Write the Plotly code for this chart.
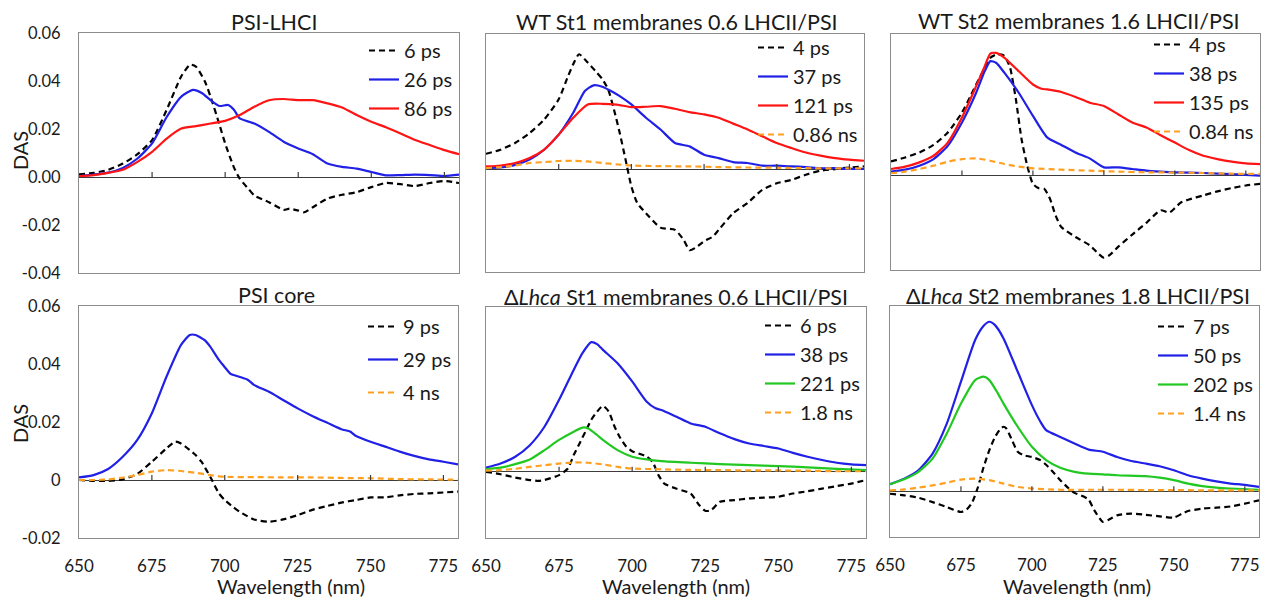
import plotly.graph_objects as go

# The page body has an 8px margin: the figure starts 8px in, and is sized to reach the window edge
OFF = 8
W, H = 1269 - OFF, 600 - OFF
FONT = "Lato"

# ---------------- data ----------------
titles = ["PSI-LHCI", "WT St1 membranes 0.6 LHCII/PSI", "WT St2 membranes 1.6 LHCII/PSI",
          "PSI core", "Δ<i>Lhca</i> St1 membranes 0.6 LHCII/PSI", "Δ<i>Lhca</i> St2 membranes 1.8 LHCII/PSI"]

step5 = list(range(650, 781, 5))
wl_tail = [650, 655, 660, 665, 670, 675, 680, 685, 690, 695, 700, 710, 720, 730, 740, 750, 760, 770, 780]

# Panel 1: PSI-LHCI
p1_wl_6ps = [650, 655, 660, 665, 670, 675, 680, 685, 688, 690, 693, 695, 698, 700, 703, 705, 708, 710, 715, 720, 722, 725, 727, 730, 735, 740, 745, 750, 755, 760, 765, 770, 775, 780]
p1_6ps = [0.0011, 0.0017, 0.003, 0.0056, 0.0095, 0.0154, 0.028, 0.042, 0.0468, 0.046, 0.040, 0.0335, 0.022, 0.014, 0.004, -0.0007, -0.005, -0.0077, -0.0105, -0.0137, -0.0132, -0.014, -0.0147, -0.0126, -0.009, -0.0074, -0.0063, -0.0042, -0.0025, -0.003, -0.0038, -0.0025, -0.0017, -0.0025]
p1_wl_26ps = [650, 655, 660, 665, 670, 675, 680, 685, 689, 692, 695, 698, 701, 703, 705, 710, 715, 720, 725, 730, 735, 740, 745, 750, 755, 760, 765, 770, 775, 780]
p1_26ps = [0.0004, 0.001, 0.0018, 0.0038, 0.0077, 0.014, 0.025, 0.0335, 0.0363, 0.035, 0.032, 0.0296, 0.030, 0.028, 0.0244, 0.0223, 0.0188, 0.0147, 0.0119, 0.0095, 0.0056, 0.0042, 0.0035, 0.0021, 0.0007, 0.0008, 0.001, 0.0008, 0.0004, 0.001]
p1_86ps = [0.0004, 0.0008, 0.0017, 0.003, 0.0063, 0.0105, 0.016, 0.0202, 0.0212, 0.0223, 0.0234, 0.0258, 0.0293, 0.032, 0.0325, 0.032, 0.032, 0.0307, 0.029, 0.0258, 0.023, 0.0207, 0.0181, 0.0154, 0.0133, 0.0112, 0.0095]

# Panel 2: WT St1
p2_wl_4ps = [650, 655, 660, 665, 670, 675, 678, 680, 682, 685, 688, 690, 692, 694, 696, 698, 700, 702, 705, 710, 715, 718, 720, 722, 725, 728, 730, 735, 740, 745, 750, 755, 760, 765, 770, 775, 780]
p2_4ps = [0.0068, 0.0086, 0.0116, 0.016, 0.022, 0.031, 0.0406, 0.0466, 0.051, 0.0473, 0.043, 0.040, 0.0354, 0.0265, 0.016, 0.0042, -0.0077, -0.015, -0.0196, -0.026, -0.027, -0.0315, -0.036, -0.035, -0.032, -0.030, -0.027, -0.0196, -0.015, -0.0092, -0.0063, -0.0048, -0.0025, -0.0007, 0.0, 0.0007, 0.0012]
p2_wl_37ps = [650, 655, 660, 665, 670, 675, 680, 684, 687, 690, 693, 696, 700, 705, 710, 715, 720, 725, 730, 735, 740, 745, 750, 755, 760, 765, 770, 775, 780]
p2_37ps = [0.0004, 0.0007, 0.0019, 0.0042, 0.0086, 0.0153, 0.025, 0.0347, 0.0372, 0.0366, 0.0347, 0.0324, 0.0287, 0.0228, 0.0176, 0.0116, 0.0101, 0.0064, 0.0049, 0.0031, 0.0027, 0.0015, 0.0015, 0.0012, 0.0009, 0.0004, 0.0004, 0.0001, 0.0001]
p2_121ps = [0.0012, 0.0016, 0.0027, 0.0049, 0.0086, 0.0153, 0.0228, 0.0287, 0.029, 0.0286, 0.0275, 0.0277, 0.028, 0.0268, 0.0253, 0.0243, 0.0228, 0.0202, 0.0176, 0.0146, 0.0116, 0.0094, 0.0074, 0.006, 0.0049, 0.0042, 0.0037]
p2_086ns = [0.0004, 0.0009, 0.0016, 0.0027, 0.0031, 0.0036, 0.0037, 0.0034, 0.0027, 0.0021, 0.0016, 0.0013, 0.0012, 0.0009, 0.0007, 0.0006, 0.0004, 0.0003, 0.0003]

# Panel 3: WT St2
p3_wl_4ps = [650, 655, 660, 665, 670, 675, 678, 680, 683, 685, 687, 689, 690, 691, 692, 694, 696, 698, 700, 702, 704, 706, 708, 710, 715, 720, 723, 725, 727, 730, 735, 740, 745, 748, 750, 752, 755, 760, 765, 770, 775, 780]
p3_4ps = [0.006, 0.0077, 0.0098, 0.013, 0.0183, 0.0267, 0.0337, 0.0386, 0.0456, 0.0499, 0.0513, 0.0513, 0.0506, 0.0485, 0.0456, 0.0323, 0.0154, 0.0042, -0.0035, -0.0053, -0.0056, -0.0098, -0.0169, -0.0218, -0.026, -0.0295, -0.033, -0.0348, -0.0337, -0.0302, -0.025, -0.020, -0.0147, -0.0157, -0.0138, -0.0115, -0.0101, -0.0084, -0.0067, -0.0053, -0.0042, -0.0035]
p3_wl_38ps = [650, 655, 660, 665, 670, 675, 680, 683, 685, 687, 690, 695, 700, 705, 710, 715, 720, 725, 730, 735, 740, 745, 750, 760, 770, 780]
p3_38ps = [0.0017, 0.0025, 0.0042, 0.007, 0.0126, 0.0225, 0.0351, 0.0442, 0.0485, 0.0478, 0.0435, 0.0351, 0.0253, 0.0162, 0.013, 0.0098, 0.0073, 0.0035, 0.0035, 0.0028, 0.0021, 0.0017, 0.0014, 0.0011, 0.0006, 0.0]
p3_wl_135ps = [650, 655, 660, 665, 670, 675, 680, 683, 685, 687, 690, 695, 700, 703, 705, 710, 715, 720, 725, 730, 735, 740, 745, 750, 755, 760, 765, 770, 775, 780]
p3_135ps = [0.0028, 0.0038, 0.0056, 0.0084, 0.014, 0.0246, 0.0379, 0.0463, 0.0517, 0.052, 0.0499, 0.0442, 0.0386, 0.0368, 0.0365, 0.0354, 0.0333, 0.0309, 0.0295, 0.026, 0.0225, 0.0204, 0.0171, 0.014, 0.0108, 0.0084, 0.007, 0.0059, 0.0052, 0.0049]
p3_084ns = [0.001, 0.0017, 0.0028, 0.0042, 0.0059, 0.007, 0.0073, 0.0063, 0.0049, 0.0038, 0.0031, 0.0025, 0.0021, 0.0017, 0.0014, 0.0013, 0.0011, 0.0008, 0.0007]

# Panel 4: PSI core
p4_wl_9ps = [650, 655, 660, 665, 670, 675, 680, 683, 685, 688, 690, 692, 695, 698, 700, 703, 705, 710, 715, 720, 725, 730, 735, 740, 745, 750, 755, 760, 765, 770, 775, 780]
p4_9ps = [0.0, -0.0003, -0.0003, 0.0002, 0.0021, 0.0063, 0.0109, 0.0132, 0.0126, 0.0103, 0.0086, 0.0063, 0.0011, -0.0046, -0.0069, -0.0094, -0.0109, -0.0136, -0.0144, -0.0136, -0.0121, -0.0103, -0.009, -0.0078, -0.0069, -0.006, -0.006, -0.0053, -0.0048, -0.0046, -0.0043, -0.004]
p4_wl_29ps = [650, 655, 660, 665, 670, 675, 680, 685, 688, 690, 693, 695, 698, 700, 702, 705, 708, 710, 715, 720, 725, 730, 735, 740, 743, 745, 750, 755, 760, 765, 770, 775, 780]
p4_29ps = [0.0009, 0.0017, 0.0038, 0.008, 0.0138, 0.023, 0.0356, 0.0466, 0.05, 0.05, 0.0483, 0.046, 0.0414, 0.0389, 0.0366, 0.0356, 0.0345, 0.0328, 0.0305, 0.0276, 0.0247, 0.0221, 0.0198, 0.0175, 0.0167, 0.0152, 0.0132, 0.0115, 0.0098, 0.0083, 0.0071, 0.0063, 0.0054]
p4_4ns = [0.0, 0.0, 0.0002, 0.0008, 0.0017, 0.0029, 0.0034, 0.0031, 0.0025, 0.0017, 0.0011, 0.001, 0.0009, 0.0009, 0.0007, 0.0006, 0.0003, 0.0002, 0.0001]

# Panel 5: dLhca St1
p5_wl_6ps = [650, 655, 660, 665, 668, 670, 675, 678, 680, 682, 684, 686, 688, 690, 692, 694, 696, 698, 700, 703, 705, 707, 709, 711, 715, 720, 723, 725, 727, 730, 735, 740, 745, 750, 755, 760, 765, 770, 775, 780]
p5_6ps = [0.0, -0.0009, -0.0021, -0.003, -0.0033, -0.003, -0.0012, 0.0012, 0.0061, 0.0103, 0.0146, 0.0189, 0.0219, 0.024, 0.0219, 0.0164, 0.0122, 0.0091, 0.0075, 0.0064, 0.0055, 0.0036, -0.0012, -0.0043, -0.0061, -0.0079, -0.0122, -0.0142, -0.014, -0.0109, -0.0103, -0.0097, -0.0094, -0.0091, -0.0079, -0.0071, -0.0061, -0.0052, -0.0043, -0.003]
p5_wl_38ps = [650, 655, 660, 665, 670, 675, 680, 683, 686, 688, 690, 695, 700, 705, 708, 710, 715, 720, 725, 730, 735, 740, 745, 750, 755, 760, 765, 770, 775, 780]
p5_38ps = [0.0015, 0.003, 0.0055, 0.0097, 0.0164, 0.0262, 0.0371, 0.0432, 0.0472, 0.0465, 0.0444, 0.0395, 0.0329, 0.0255, 0.0231, 0.0225, 0.0201, 0.0176, 0.0164, 0.014, 0.0119, 0.0103, 0.0094, 0.0085, 0.0069, 0.0055, 0.0043, 0.0033, 0.0027, 0.0024]
p5_wl_221ps = [650, 655, 660, 665, 670, 675, 680, 683, 685, 688, 690, 695, 700, 705, 710, 720, 730, 740, 750, 760, 770, 780]
p5_221ps = [0.001, 0.0015, 0.0028, 0.0045, 0.0079, 0.0116, 0.0146, 0.0161, 0.0158, 0.0134, 0.0116, 0.0079, 0.0055, 0.0045, 0.0039, 0.0033, 0.0028, 0.0024, 0.0021, 0.0016, 0.0011, 0.0006]
p5_18ns = [0.0004, 0.0006, 0.0011, 0.0018, 0.0024, 0.003, 0.0034, 0.0033, 0.0027, 0.0018, 0.0012, 0.0009, 0.0007, 0.0006, 0.0005, 0.0005, 0.0004, 0.0002, 0.0002]

# Panel 6: dLhca St2
p6_wl_7ps = [650, 655, 660, 665, 670, 675, 677, 679, 681, 683, 685, 687, 689, 690, 691, 693, 695, 697, 700, 703, 705, 708, 710, 713, 715, 718, 720, 722, 725, 727, 730, 735, 740, 745, 750, 753, 755, 760, 765, 770, 775, 780]
p6_7ps = [-0.0008, -0.0013, -0.0021, -0.0035, -0.0051, -0.0067, -0.0059, -0.0035, 0.0014, 0.0079, 0.0133, 0.0176, 0.0203, 0.0209, 0.0203, 0.0165, 0.0128, 0.0117, 0.0111, 0.0101, 0.0086, 0.0057, 0.0036, 0.0009, -0.0005, -0.0016, -0.0027, -0.0062, -0.0099, -0.0092, -0.0078, -0.0072, -0.0076, -0.0081, -0.0085, -0.0072, -0.0064, -0.0056, -0.0053, -0.0049, -0.004, -0.0029]
p6_wl_50ps = [650, 655, 660, 665, 670, 675, 680, 683, 685, 687, 690, 695, 700, 703, 705, 710, 715, 720, 725, 730, 735, 740, 745, 750, 755, 760, 765, 770, 775, 780]
p6_50ps = [0.0023, 0.0041, 0.0068, 0.0122, 0.0219, 0.0355, 0.049, 0.0536, 0.0549, 0.0538, 0.0495, 0.0387, 0.0279, 0.0225, 0.0198, 0.0176, 0.0155, 0.0135, 0.0128, 0.0111, 0.0098, 0.009, 0.0081, 0.0068, 0.0052, 0.0041, 0.0032, 0.0025, 0.0021, 0.0014]
p6_wl_202ps = [650, 655, 660, 665, 670, 675, 680, 683, 685, 688, 690, 695, 700, 705, 710, 715, 720, 725, 730, 740, 745, 750, 755, 760, 765, 770, 780]
p6_202ps = [0.0023, 0.0039, 0.0063, 0.0106, 0.0187, 0.0284, 0.036, 0.0371, 0.036, 0.0317, 0.0284, 0.0209, 0.0144, 0.0101, 0.0076, 0.0063, 0.0057, 0.0055, 0.0052, 0.0049, 0.0044, 0.0036, 0.0025, 0.0017, 0.0012, 0.0009, 0.0005]
p6_14ns = [0.0003, 0.0006, 0.0012, 0.0019, 0.0028, 0.0038, 0.0041, 0.0036, 0.0025, 0.0014, 0.0009, 0.0005, 0.0005, 0.0005, 0.0004, 0.0004, 0.0003, 0.0003, 0.0003]

x_ticks = [650, 675, 700, 725, 750, 775]
y_ticks_top = [-0.04, -0.02, 0.0, 0.02, 0.04, 0.06]
y_ticklabels_top = ["-0.04", "-0.02", "0.00", "0.02", "0.04", "0.06"]
y_ticks_bot = [-0.02, 0.0, 0.02, 0.04, 0.06]
y_ticklabels_bot = ["-0.02", "0", "0.02", "0.04", "0.06"]

# ---------------- styles ----------------
BLACK, BLUE, RED, ORANGE, GREEN = "#000000", "#2020e6", "#ff1414", "#ffa020", "#22c822"
DASH = "6px,4px"

panels = [
    dict(series=[("6 ps", p1_wl_6ps, p1_6ps, BLACK, DASH), ("26 ps", p1_wl_26ps, p1_26ps, BLUE, "solid"),
                 ("86 ps", step5, p1_86ps, RED, "solid")]),
    dict(series=[("4 ps", p2_wl_4ps, p2_4ps, BLACK, DASH), ("37 ps", p2_wl_37ps, p2_37ps, BLUE, "solid"),
                 ("121 ps", step5, p2_121ps, RED, "solid"), ("0.86 ns", wl_tail, p2_086ns, ORANGE, DASH)]),
    dict(series=[("4 ps", p3_wl_4ps, p3_4ps, BLACK, DASH), ("38 ps", p3_wl_38ps, p3_38ps, BLUE, "solid"),
                 ("135 ps", p3_wl_135ps, p3_135ps, RED, "solid"), ("0.84 ns", wl_tail, p3_084ns, ORANGE, DASH)]),
    dict(series=[("9 ps", p4_wl_9ps, p4_9ps, BLACK, DASH), ("29 ps", p4_wl_29ps, p4_29ps, BLUE, "solid"),
                 ("4 ns", wl_tail, p4_4ns, ORANGE, DASH)]),
    dict(series=[("6 ps", p5_wl_6ps, p5_6ps, BLACK, DASH), ("38 ps", p5_wl_38ps, p5_38ps, BLUE, "solid"),
                 ("221 ps", p5_wl_221ps, p5_221ps, GREEN, "solid"), ("1.8 ns", wl_tail, p5_18ns, ORANGE, DASH)]),
    dict(series=[("7 ps", p6_wl_7ps, p6_7ps, BLACK, DASH), ("50 ps", p6_wl_50ps, p6_50ps, BLUE, "solid"),
                 ("202 ps", p6_wl_202ps, p6_202ps, GREEN, "solid"), ("1.4 ns", wl_tail, p6_14ns, ORANGE, DASH)]),
]

# pixel boxes in window coordinates: (left, right, top, bottom)
boxes = [(79, 459, 33, 273), (486, 864, 34, 272), (891, 1260, 34, 270),
         (79, 458, 306, 538), (486, 866, 307, 538), (890, 1259, 306, 537)]
yranges = [(-0.04, 0.06), (-0.0457, 0.06), (-0.04, 0.06),
           (-0.02, 0.06), (-0.0241, 0.06), (-0.0148, 0.06)]
legend_gaps = [0, 0, 0, 4, 0, 0]
legend_top = [31, 28, 25, 307, 306, 307]
title_pos = [(274, 22), (677, 22), (1079, 21), (276, 295), (676, 297), (1078, 296)]

fx = lambda px: (px - OFF) / W
fy = lambda py: 1 - (py - OFF) / H

fig = go.Figure()
layout = dict(width=W, height=H, autosize=False,
              margin=dict(l=0, r=0, t=0, b=0, pad=0, autoexpand=False),
              paper_bgcolor="white", plot_bgcolor="white",
              font=dict(family=FONT, color="#1a1a1a"), showlegend=True)
shapes, annotations = [], []

for i, (p, box, yr) in enumerate(zip(panels, boxes, yranges)):
    n = i + 1
    xa = "x" if n == 1 else f"x{n}"
    ya = "y" if n == 1 else f"y{n}"
    lg = "legend" if n == 1 else f"legend{n}"
    for k, (name, wl, vals, col, dash) in enumerate(p["series"]):
        fig.add_trace(go.Scatter(x=wl, y=vals, name=name, mode="lines",
                                 line=dict(color=col, width=2.2, dash=dash, shape="spline", smoothing=0.6),
                                 xaxis=xa, yaxis=ya, legend=lg, legendgroup=f"g{n}_{k}"))
    l, r, t, b = box
    bottom_row = n >= 4
    left_col = n in (1, 4)
    layout["xaxis" if n == 1 else f"xaxis{n}"] = dict(
        domain=[fx(l), fx(r)], range=[650, 780], anchor=ya, automargin=False,
        showline=True, mirror=True, linecolor="#8c8c8c", linewidth=1.3,
        showgrid=False, zeroline=False, ticks="",
        tickvals=x_ticks, showticklabels=bottom_row,
        tickfont=dict(size=17, color="#1a1a1a"), ticklabelstandoff=12)
    if left_col:
        tv = y_ticks_top if n == 1 else y_ticks_bot
        tt = y_ticklabels_top if n == 1 else y_ticklabels_bot
    else:
        tv, tt = [], []
    layout["yaxis" if n == 1 else f"yaxis{n}"] = dict(
        domain=[fy(b), fy(t)], range=list(yr), anchor=xa, automargin=False,
        showline=True, mirror=True, linecolor="#8c8c8c", linewidth=1.3,
        showgrid=False, zeroline=True, zerolinecolor="#3c3c3c", zerolinewidth=1.3,
        ticks="", tickvals=tv, ticktext=tt, showticklabels=left_col,
        tickfont=dict(size=16.5, color="#1a1a1a"), ticklabelstandoff=14)
    # tick marks on the zero line
    for tx in x_ticks[1:]:
        shapes.append(dict(type="line", xref=xa, yref=ya, x0=tx, x1=tx,
                           ysizemode="pixel", yanchor=0, y0=0, y1=5,
                           line=dict(color="#3c3c3c", width=1.2)))
    layout[lg] = dict(x=fx(r) - 1 / W, xanchor="right", y=fy(legend_top[i]), yanchor="top",
                      bgcolor="rgba(0,0,0,0)", font=dict(size=20, color="#1a1a1a"),
                      traceorder="grouped", tracegroupgap=legend_gaps[i],
                      itemwidth=30, borderwidth=0)
    tx_, ty_ = title_pos[i]
    annotations.append(dict(text=titles[i], x=fx(tx_), y=fy(ty_), xref="paper", yref="paper",
                            xanchor="center", yanchor="middle", showarrow=False,
                            font=dict(size=21.5, color="#1a1a1a")))
    if bottom_row:
        cx = {4: 291, 5: 676, 6: 1077}[n]
        annotations.append(dict(text="Wavelength (nm)", x=fx(cx), y=fy(586), xref="paper", yref="paper",
                                xanchor="center", yanchor="middle", showarrow=False,
                                font=dict(size=20, color="#1a1a1a")))
    if left_col:
        cy = 150 if n == 1 else 423
        annotations.append(dict(text="DAS", x=fx(20), y=fy(cy), xref="paper", yref="paper",
                                xanchor="center", yanchor="middle", showarrow=False, textangle=-90,
                                font=dict(size=20, color="#1a1a1a")))

layout["shapes"] = shapes
layout["annotations"] = annotations
fig.update_layout(**layout)
fig.write_html("out.html")
